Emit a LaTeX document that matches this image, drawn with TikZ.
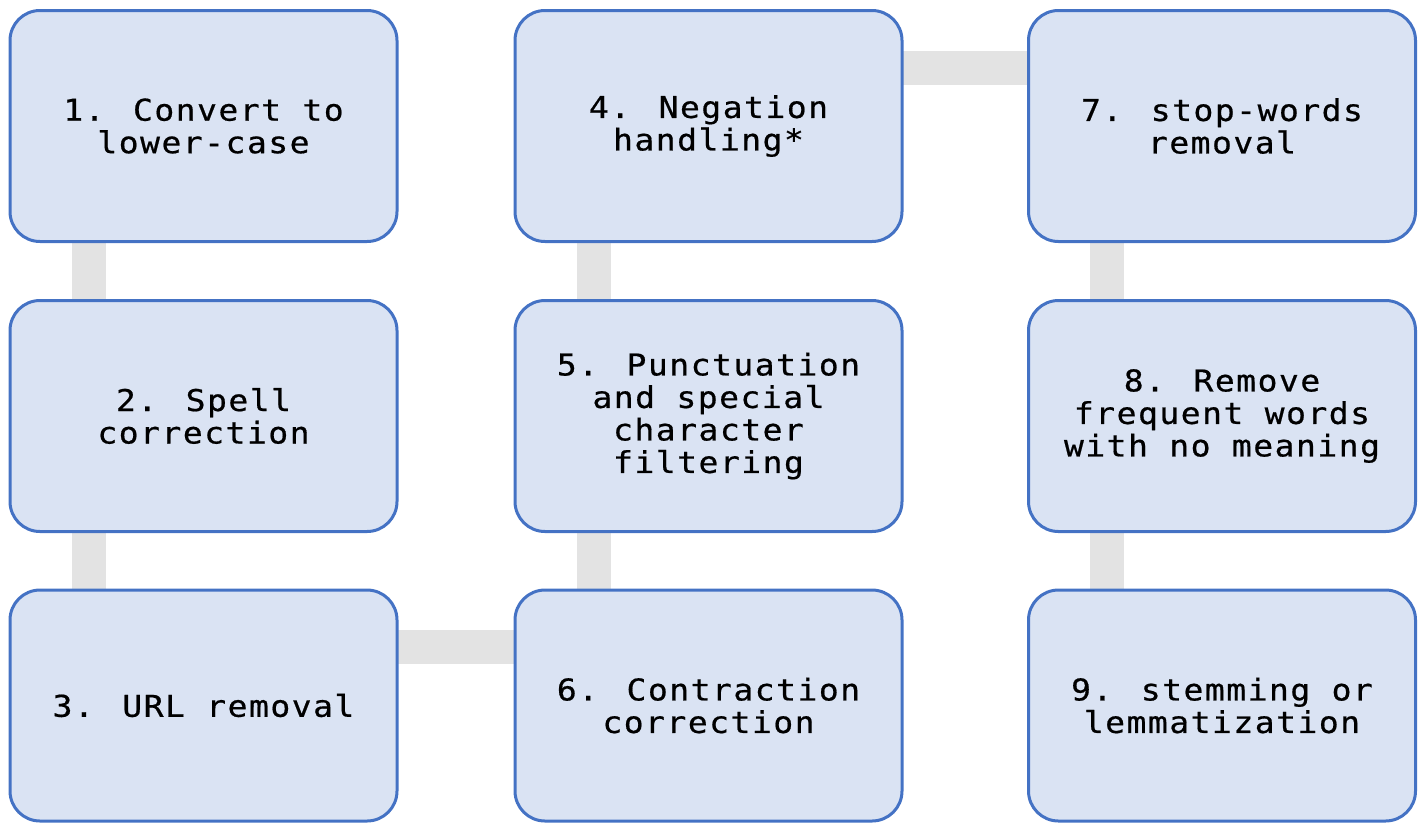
\documentclass[tikz,border=0pt]{standalone}
\usepackage{fontspec}
\newfontfamily\boxfont{DejaVu Sans Mono}[FakeStretch=1.1,LetterSpace=5,FakeBold=0.6]
\definecolor{boxfill}{HTML}{DAE3F3}
\definecolor{boxline}{HTML}{4472C4}
\definecolor{connc}{HTML}{E3E3E3}
\pgfdeclarelayer{background}
\pgfsetlayers{background,main}
\tikzset{
  stepbox/.style={draw=boxline, fill=boxfill, line width=3pt, rounded corners=30pt,
    minimum width=387pt, minimum height=231pt, align=center, inner sep=0pt,
    font=\boxfont\fontsize{30}{32.5}\selectfont, text=black},
  conn/.style={draw=connc, line width=34pt}
}
\begin{document}
\begin{tikzpicture}[x=1pt,y=-1pt]
\useasboundingbox (0,0) rectangle (1424,823);
\node[stepbox] (b1) at (203.5,126) {1. Convert to\\lower-case};
\node[stepbox] (b2) at (203.5,416) {2. Spell\\correction};
\node[stepbox] (b3) at (203.5,705.5) {3. URL removal};
\node[stepbox] (b4) at (708.5,126) {4. Negation\\handling*};
\node[stepbox] (b5) at (708.5,416) {5. Punctuation\\and special\\character\\filtering};
\node[stepbox] (b6) at (708.5,705.5) {6. Contraction\\correction};
\node[stepbox] (b7) at (1222,126) {7. stop-words\\removal};
\node[stepbox] (b8) at (1222,416) {8. Remove\\frequent words\\with no meaning};
\node[stepbox] (b9) at (1222,705.5) {9. stemming or\\lemmatization};
\begin{pgfonlayer}{background}
\draw[conn] ([xshift=-114.5pt]b1.center) -- ([xshift=-114.5pt]b2.center);
\draw[conn] ([xshift=-114.5pt]b2.center) -- ([xshift=-114.5pt]b3.center);
\draw[conn] ([yshift=58.5pt]b3.center) -- ([yshift=58.5pt]b6.center);
\draw[conn] ([xshift=-114.5pt]b6.center) -- ([xshift=-114.5pt]b5.center);
\draw[conn] ([xshift=-114.5pt]b5.center) -- ([xshift=-114.5pt]b4.center);
\draw[conn] ([yshift=58pt]b4.center) -- ([yshift=58pt]b7.center);
\draw[conn] ([xshift=-115pt]b7.center) -- ([xshift=-115pt]b8.center);
\draw[conn] ([xshift=-115pt]b8.center) -- ([xshift=-115pt]b9.center);
\end{pgfonlayer}
\end{tikzpicture}
\end{document}
